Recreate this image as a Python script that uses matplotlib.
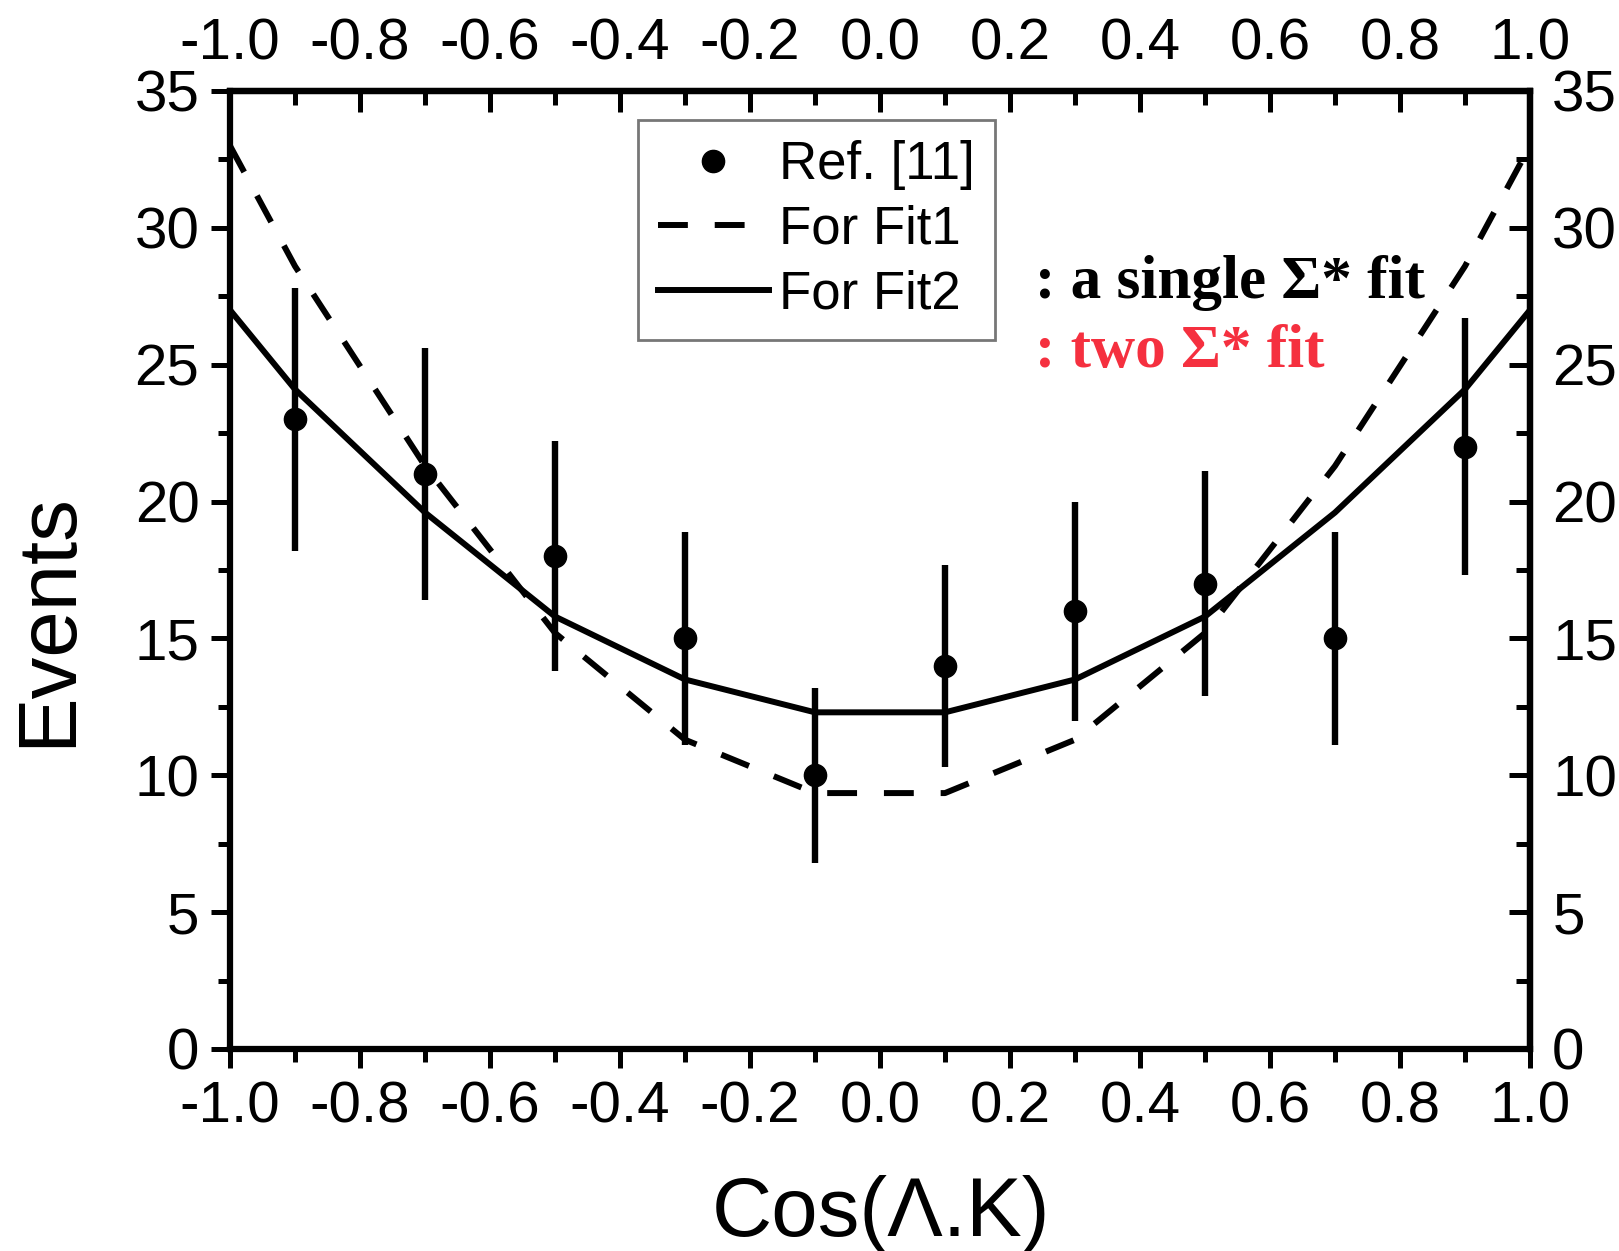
import matplotlib
matplotlib.use("Agg")
import matplotlib.pyplot as plt
from matplotlib.ticker import MultipleLocator, FixedLocator

# ---- data ----
x_data = [-0.9, -0.7, -0.5, -0.3, -0.1, 0.1, 0.3, 0.5, 0.7, 0.9]
y_data = [23, 21, 18, 15, 10, 14, 16, 17, 15, 22]
y_err = [4.8, 4.6, 4.2, 3.9, 3.2, 3.7, 4.0, 4.1, 3.9, 4.7]

x_fit = [-1.0, -0.9, -0.7, -0.5, -0.3, -0.1, 0.1, 0.3, 0.5, 0.7, 0.9, 1.0]
fit1 = [33.0, 28.6, 21.3, 15.2, 11.3, 9.35, 9.35, 11.3, 15.2, 21.3, 28.6, 33.0]
fit2 = [27.0, 24.1, 19.6, 15.8, 13.5, 12.3, 12.3, 13.5, 15.8, 19.6, 24.1, 27.0]

x_ticks = [-1.0, -0.8, -0.6, -0.4, -0.2, 0.0, 0.2, 0.4, 0.6, 0.8, 1.0]
x_ticklabels = ["-1.0", "-0.8", "-0.6", "-0.4", "-0.2", "0.0", "0.2", "0.4", "0.6", "0.8", "1.0"]
y_ticks = [0, 5, 10, 15, 20, 25, 30, 35]

legend_labels = ["Ref. [11]", "For Fit1", "For Fit2"]
note1 = ": a single \u03a3* fit"
note2 = ": two \u03a3* fit"

plt.rcParams['font.family'] = ['Liberation Sans', 'DejaVu Sans']
plt.rcParams['axes.unicode_minus'] = False

W, H = 1619, 1251
fig = plt.figure(figsize=(W / 100, H / 100), dpi=100)
L, R, T, B = 230, 1530, 91, 1049
ax = fig.add_axes([L / W, 1 - B / H, (R - L) / W, (B - T) / H])

LW = 4.3
ax.plot(x_fit, fit1, color='black', lw=LW, dashes=(5, 4.5), label=legend_labels[1], zorder=3)
ax.plot(x_fit, fit2, color='black', lw=LW, label=legend_labels[2], zorder=3)
ax.errorbar(x_data, y_data, yerr=y_err, fmt='none', ecolor='black', elinewidth=4.6, capsize=0, zorder=4)
pts, = ax.plot(x_data, y_data, 'o', color='black', ms=16, ls='none', label=legend_labels[0], zorder=5)

ax.set_xlim(-1.0, 1.0)
ax.set_ylim(0, 35)

for s in ax.spines.values():
    s.set_linewidth(4.5)

fs_tick = 42
ax.xaxis.set_major_locator(FixedLocator(x_ticks))
ax.set_xticklabels(x_ticklabels)
ax.xaxis.set_minor_locator(MultipleLocator(0.1))
ax.yaxis.set_major_locator(FixedLocator(y_ticks))
ax.yaxis.set_minor_locator(MultipleLocator(2.5))
ax.tick_params(axis='both', which='major', direction='out', length=14, width=3.6, labelsize=fs_tick)
ax.tick_params(axis='both', which='minor', direction='out', length=9, width=3.6)
ax.tick_params(axis='x', which='major', pad=9)
ax.tick_params(axis='y', which='major', pad=8)

secx = ax.secondary_xaxis('top')
secx.xaxis.set_major_locator(FixedLocator(x_ticks))
secx.set_xticklabels(x_ticklabels)
secx.xaxis.set_minor_locator(MultipleLocator(0.1))
secx.tick_params(axis='x', which='major', direction='in', length=15, width=3.6, labelsize=fs_tick, pad=14)
secx.tick_params(axis='x', which='minor', direction='in', length=10, width=3.6)
secx.spines['top'].set_linewidth(4.5)

secy = ax.secondary_yaxis('right')
secy.yaxis.set_major_locator(FixedLocator(y_ticks))
secy.yaxis.set_minor_locator(MultipleLocator(2.5))
secy.tick_params(axis='y', which='major', direction='in', length=15, width=3.6, labelsize=fs_tick, pad=16)
secy.tick_params(axis='y', which='minor', direction='in', length=10, width=3.6)
secy.spines['right'].set_linewidth(4.5)

for lab in ax.get_xticklabels() + ax.get_yticklabels() + secx.get_xticklabels() + secy.get_yticklabels():
    lab.set_fontfamily(['Liberation Sans', 'DejaVu Sans'])

# axis labels
fig.text(70 / W, 1 - 620 / H, "Events", rotation=90, ha='center', va='baseline',
         rotation_mode='anchor', fontsize=60)
fig.text(881 / W, 1 - 1236 / H, "Cos(\u039b.K)", ha='center', va='baseline', fontsize=60)

# legend
handles = [pts, ax.lines[0], ax.lines[1]]
leg = ax.legend(handles, legend_labels, loc='upper left',
                bbox_to_anchor=(638 / W, 1 - 120 / H), bbox_transform=fig.transFigure,
                borderaxespad=0, fontsize=38, frameon=True, fancybox=False, shadow=False,
                edgecolor='#777777', framealpha=1, numpoints=1, handlelength=2.1,
                handletextpad=0.2, labelspacing=0.28, borderpad=0.38)
leg.get_frame().set_linewidth(2.0)

# notes
fig.text(1035 / W, 1 - 298 / H, note1, ha='left', va='baseline', fontsize=44,
         fontweight='bold', family=['Liberation Serif', 'DejaVu Serif'], color='black')
fig.text(1035 / W, 1 - 367 / H, note2, ha='left', va='baseline', fontsize=44,
         fontweight='bold', family=['Liberation Serif', 'DejaVu Serif'], color='#f5303f')

fig.savefig("out.png", dpi=100)
